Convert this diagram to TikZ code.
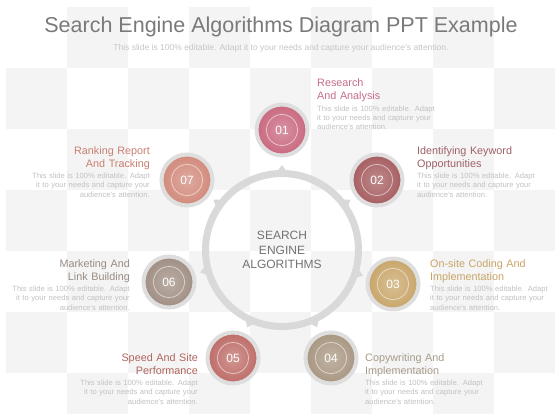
\documentclass[tikz,border=0pt]{standalone}
\usepackage{fontspec}
\setmainfont{Liberation Sans}
\usepackage{xcolor}
\usepackage{tikz}
\usetikzlibrary{positioning}

\definecolor{cellgray}{HTML}{F4F4F4}
\definecolor{titlegray}{HTML}{7A7A7A}
\definecolor{subgray}{HTML}{C6C6C6}
\definecolor{bodygray}{HTML}{C2C2C2}
\definecolor{hubtext}{HTML}{727272}
\definecolor{ringgray}{HTML}{D9D9D9}
\definecolor{dotrim}{HTML}{DEDEDE}
% step colours
\definecolor{clr1}{HTML}{C9687F}
\definecolor{clr2}{HTML}{A65D60}
\definecolor{clr3}{HTML}{C8A66A}
\definecolor{clr4}{HTML}{A89681}
\definecolor{clr5}{HTML}{BE6D68}
\definecolor{clr6}{HTML}{A08E83}
\definecolor{clr7}{HTML}{D18A7B}
% label colours
\definecolor{lab1}{HTML}{C46E89}
\definecolor{lab2}{HTML}{9E6067}
\definecolor{lab3}{HTML}{C9A466}
\definecolor{lab4}{HTML}{A89B8C}
\definecolor{lab5}{HTML}{B0655F}
\definecolor{lab6}{HTML}{9A8B82}
\definecolor{lab7}{HTML}{C87F70}

\newcommand{\blurb}{This slide is 100\% editable. Adapt\\it to your needs and capture your\\audience's attention.}

\begin{document}
\begin{tikzpicture}[
    x=1pt, y=-1pt,
    cell/.style={fill=cellgray},
    hub/.style={circle, draw=ringgray, line width=7pt, minimum size=153pt, align=center, text=hubtext, font=\fontsize{12}{14.5}\selectfont},
    notch/.style={fill=ringgray},
    stepdot/.style={circle, draw=dotrim, line width=4pt, minimum size=51pt, inner sep=0pt, text=white, font=\fontsize{12}{14}\selectfont,
        path picture={\draw[white, opacity=0.55, line width=0.8pt] (path picture bounding box.center) circle (15.5pt);}},
    rtitle/.style={anchor=base west, align=left, text width=140pt, inner sep=0pt, font=\fontsize{10.8}{13}\selectfont},
    ltitle/.style={rtitle, anchor=base east, align=right},
    rbody/.style={anchor=base west, align=left, text width=140pt, inner sep=0pt, text=bodygray, font=\fontsize{7.6}{9.3}\selectfont},
    lbody/.style={rbody, anchor=base east, align=right}
]
    \useasboundingbox (0,0) rectangle (560,420);
    \fill[white] (0,0) rectangle (560,420);

    % Background
    \begin{scope}
        \clip (6,7) rectangle (556,413);
        \foreach \r in {0,...,6}
            \foreach \c in {0,...,8}{
                \pgfmathtruncatemacro{\cellon}{mod(\r+\c,2)}
                \ifnum\cellon=1 \fill[cell] (6+61*\c,7+61*\r) rectangle ++(61,61); \fi
            }
    \end{scope}

    % Heading
    \node[font=\fontsize{21.5}{24}\selectfont, text=titlegray, anchor=base] (title) at (281,33) {Search Engine Algorithms Diagram PPT Example};
    \node[font=\fontsize{8.5}{10}\selectfont, text=subgray, anchor=base] (subtitle) at (281,51) {This slide is 100\% editable. Adapt it to your needs and capture your audience's attention.};

    % Ring
    \node[hub] (hub) at (282,250) {SEARCH\\ENGINE\\ALGORITHMS};
    \foreach \a in {90,36.4,-17.5,-65.6,-114.2,-164.7,143.7}
        \fill[notch, shift={(hub.center)}, rotate=\a] (78,-5) -- (85,0) -- (78,5) -- cycle;

    % Steps
    \node[stepdot, inner color=clr1!72!white, outer color=clr1] (s1) at (282,130) {01};
    \node[stepdot, inner color=clr2!72!white, outer color=clr2] (s2) at (377,180) {02};
    \node[stepdot, inner color=clr3!72!white, outer color=clr3] (s3) at (393,284) {03};
    \node[stepdot, inner color=clr4!72!white, outer color=clr4] (s4) at (331,358) {04};
    \node[stepdot, inner color=clr5!72!white, outer color=clr5] (s5) at (233,358) {05};
    \node[stepdot, inner color=clr6!72!white, outer color=clr6] (s6) at (169,282) {06};
    \node[stepdot, inner color=clr7!72!white, outer color=clr7] (s7) at (187,180) {07};

    % Labels
    \node[rtitle, text=lab1] (t1) at (317,87) {Research\\And Analysis};
    \node[rbody] (b1) at ([yshift=-24pt]t1.base west) {\blurb};
    \node[rtitle, text=lab2] (t2) at (417,154.5) {Identifying Keyword\\Opportunities};
    \node[rbody] (b2) at ([yshift=-24pt]t2.base west) {\blurb};
    \node[rtitle, text=lab3] (t3) at (430,267.5) {On-site Coding And\\Implementation};
    \node[rbody] (b3) at ([yshift=-24pt]t3.base west) {\blurb};
    \node[rtitle, text=lab4] (t4) at (365,361.5) {Copywriting And\\Implementation};
    \node[rbody] (b4) at ([yshift=-24pt]t4.base west) {\blurb};
    \node[ltitle, text=lab5] (t5) at (198,361.5) {Speed And Site\\Performance};
    \node[lbody] (b5) at ([yshift=-24pt]t5.base east) {\blurb};
    \node[ltitle, text=lab6] (t6) at (130,267.5) {Marketing And\\Link Building};
    \node[lbody] (b6) at ([yshift=-24pt]t6.base east) {\blurb};
    \node[ltitle, text=lab7] (t7) at (150,154.5) {Ranking Report\\And Tracking};
    \node[lbody] (b7) at ([yshift=-24pt]t7.base east) {\blurb};
\end{tikzpicture}
\end{document}
